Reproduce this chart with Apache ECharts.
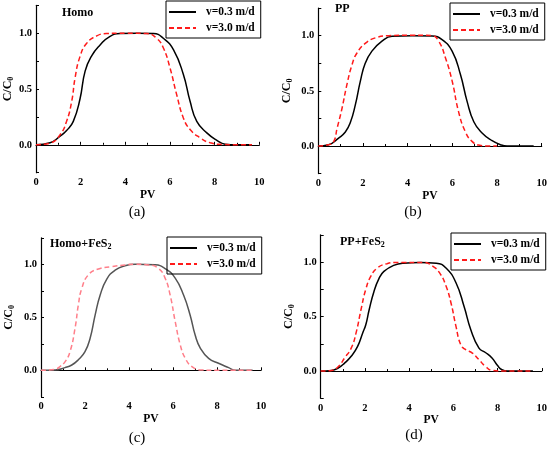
<!DOCTYPE html>
<html>
<head>
<meta charset="utf-8">
<script src="https://cdn.jsdelivr.net/npm/echarts@6/dist/echarts.min.js"></script>
<style>html,body{margin:0;padding:0;background:#fff;}#c{width:550px;height:449px;}</style>
</head>
<body>
<div id="c"></div>
<script>
// Data: [PV, C/C0]
var homoSlow = [[0,0],[0.63,0.018],[1.08,0.077],[1.37,0.128],[1.67,0.21],[1.97,0.41],[2.2,0.66],[2.5,0.8],[2.87,0.895],[3.3,0.97],[3.77,0.997],[4.5,1.0],[5.26,0.997],[5.7,0.955],[6.16,0.85],[6.6,0.63],[6.9,0.39],[7.2,0.21],[7.65,0.107],[8.1,0.04],[8.47,0.006],[9,0],[9.67,0]];
var homoFast = [[0,0],[0.63,0.015],[1.08,0.09],[1.37,0.21],[1.6,0.39],[1.75,0.6],[1.97,0.79],[2.27,0.91],[2.72,0.976],[3.17,0.997],[4,1.0],[4.96,0.997],[5.4,0.955],[5.7,0.87],[6.0,0.69],[6.3,0.45],[6.6,0.24],[6.9,0.137],[7.35,0.0625],[7.8,0.018],[8.33,0.003],[9,0],[9.67,0]];
var ppSlow = [[0,0],[0.46,0.012],[0.91,0.072],[1.21,0.127],[1.43,0.21],[1.66,0.375],[1.88,0.586],[2.1,0.75],[2.4,0.86],[2.85,0.95],[3.3,0.994],[4.2,1.0],[5.09,0.997],[5.54,0.964],[5.99,0.86],[6.36,0.65],[6.66,0.405],[6.96,0.22],[7.33,0.118],[7.78,0.048],[8.15,0.012],[8.45,0],[9.64,0]];
var ppFast = [[0,0],[0.46,0.012],[0.69,0.04],[0.84,0.16],[1.06,0.34],[1.28,0.556],[1.51,0.737],[1.73,0.843],[2.1,0.93],[2.55,0.98],[3.15,1.0],[4.2,1.005],[5.09,1.0],[5.39,0.95],[5.69,0.8],[5.99,0.59],[6.28,0.31],[6.58,0.13],[6.88,0.042],[7.18,0.009],[7.6,0],[8.0,0]];
var homoFeSlow = [[0,0],[0.64,0.003],[1.09,0.025],[1.4,0.05],[1.7,0.1],[2.0,0.176],[2.23,0.3],[2.46,0.52],[2.69,0.71],[2.99,0.86],[3.37,0.945],[3.82,0.987],[4.28,1.0],[5.19,0.995],[5.64,0.96],[6.1,0.87],[6.48,0.71],[6.78,0.52],[7.01,0.33],[7.24,0.21],[7.62,0.113],[8.07,0.066],[8.53,0.025],[8.83,0],[9.62,0]];
var homoFeFast = [[0,0],[0.64,0.01],[0.86,0.035],[1.09,0.08],[1.32,0.176],[1.55,0.4],[1.7,0.62],[1.85,0.77],[2.15,0.9],[2.61,0.956],[3.22,0.978],[3.82,0.994],[4.28,1.0],[4.89,0.994],[5.34,0.96],[5.64,0.87],[5.87,0.71],[6.1,0.46],[6.33,0.24],[6.56,0.113],[6.86,0.035],[7.31,0.003],[8,0],[9.62,0]];
var ppFeSlow = [[0,0],[0.49,0.006],[0.79,0.028],[1.08,0.073],[1.38,0.135],[1.67,0.226],[1.9,0.35],[2.04,0.425],[2.19,0.56],[2.41,0.73],[2.64,0.85],[2.86,0.914],[3.3,0.97],[3.75,0.99],[4.5,0.995],[5.23,0.99],[5.67,0.945],[6.12,0.81],[6.49,0.59],[6.79,0.38],[7.16,0.21],[7.45,0.17],[7.75,0.12],[8.0,0.05],[8.2,0.012],[8.45,0],[9.6,0]];
var ppFeFast = [[0,0],[0.49,0.006],[0.79,0.04],[1.08,0.12],[1.38,0.21],[1.6,0.35],[1.82,0.56],[2.04,0.75],[2.27,0.87],[2.56,0.945],[3.0,0.985],[3.45,0.997],[4.64,0.997],[5.08,0.96],[5.38,0.9],[5.67,0.78],[5.9,0.62],[6.12,0.41],[6.34,0.24],[6.56,0.196],[6.86,0.165],[7.16,0.104],[7.45,0.043],[7.75,0.006],[8.2,0],[9.6,0]];

var seriesNames = ['v=0.3 m/d', 'v=3.0 m/d'];
var panelTitles = ['Homo', 'PP', 'Homo+FeS', 'PP+FeS'];
var panelSubs = ['', '', '2', '2'];
var panelLabels = ['(a)', '(b)', '(c)', '(d)'];
var xTicks = [0, 2, 4, 6, 8, 10];
var yTicks = [0.0, 0.5, 1.0];

var FONT = 'Liberation Serif';
var chart = echarts.init(document.getElementById('c'), null, {renderer: 'canvas'});

var grids = [
  {left: 36, top: 5.3, width: 223.3, height: 167.4},
  {left: 318.3, top: 8.1, width: 223.4, height: 165.5},
  {left: 41, top: 237.8, width: 220, height: 159},
  {left: 320.7, top: 234.8, width: 222.5, height: 163.5}
];
var yNameGaps = [20, 24, 25, 25];
var titlePos = [[62, 7], [335, 3], [50, 237], [340, 235]];
var labelPos = [[137, 205], [413, 205], [137, 431], [414, 428]];
var legendPos = [[166, 1], [450, 3], [167, 237], [451, 233]];
var slowColors = ['#000', '#000', '#555', '#000'];
var fastColors = ['#ff1a1a', '#ff1a1a', '#ff7f8a', '#ff1a1a'];
var slowData = [homoSlow, ppSlow, homoFeSlow, ppFeSlow];
var fastData = [homoFast, ppFast, homoFeFast, ppFeFast];

var xAxes = [], yAxes = [], series = [], titles = [], legends = [];
for (var i = 0; i < 4; i++) {
  xAxes.push({
    type: 'value', gridIndex: i, min: 0, max: 10, interval: 2,
    name: 'PV', nameLocation: 'middle', nameGap: 16,
    nameTextStyle: {fontFamily: FONT, fontWeight: 'bold', fontSize: 11.5, color: '#000'},
    axisLine: {show: true, lineStyle: {color: '#000', width: 1.2}},
    axisTick: {show: true, inside: true, length: 3, lineStyle: {color: '#000', width: 1}},
    minorTick: {show: true, splitNumber: 2, length: 2, lineStyle: {color: '#000', width: 1}},
    splitLine: {show: false},
    axisLabel: {fontFamily: FONT, fontWeight: 'bold', fontSize: 10.5, color: '#000', margin: 4,
      formatter: function (v) { return xTicks.indexOf(v) >= 0 ? String(v) : ''; }}
  });
  yAxes.push({
    type: 'value', gridIndex: i, min: -0.25, max: 1.25, interval: 0.25,
    name: '{m|C/C}{s|0}', nameLocation: 'middle', nameGap: yNameGaps[i],
    nameTextStyle: {fontFamily: FONT, fontWeight: 'bold', fontSize: 12, color: '#000',
      rich: {m: {fontFamily: FONT, fontWeight: 'bold', fontSize: 12, color: '#000'},
             s: {fontFamily: FONT, fontWeight: 'bold', fontSize: 8, color: '#000', padding: [6, 0, 0, 0]}}},
    axisLine: {show: true, lineStyle: {color: '#000', width: 1.2}},
    axisTick: {show: true, inside: true, length: 3, lineStyle: {color: '#000', width: 1}},
    splitLine: {show: false},
    axisLabel: {fontFamily: FONT, fontWeight: 'bold', fontSize: 10.5, color: '#000', margin: 4,
      formatter: function (v) {
        for (var k = 0; k < yTicks.length; k++) { if (Math.abs(v - yTicks[k]) < 1e-6) return yTicks[k].toFixed(1); }
        return '';
      }}
  });
  series.push({
    type: 'line', name: seriesNames[0], xAxisIndex: i, yAxisIndex: i, data: slowData[i],
    showSymbol: false, symbol: 'none', smooth: 0.5,
    lineStyle: {color: slowColors[i], width: 1.5, type: 'solid'}, itemStyle: {color: slowColors[i]}
  });
  series.push({
    type: 'line', name: seriesNames[1], xAxisIndex: i, yAxisIndex: i, data: fastData[i],
    showSymbol: false, symbol: 'none', smooth: 0.5,
    lineStyle: {color: fastColors[i], width: 1.5, type: [5, 3]}, itemStyle: {color: fastColors[i]}
  });
  titles.push({
    text: panelSubs[i] ? '{m|' + panelTitles[i] + '}{s|' + panelSubs[i] + '}' : panelTitles[i],
    left: titlePos[i][0], top: titlePos[i][1], padding: 0,
    textStyle: {fontFamily: FONT, fontWeight: 'bold', fontSize: 12, color: '#000',
      rich: {m: {fontFamily: FONT, fontWeight: 'bold', fontSize: 12, color: '#000'},
             s: {fontFamily: FONT, fontWeight: 'bold', fontSize: 8, color: '#000', padding: [6, 0, 0, 0]}}}
  });
  titles.push({
    text: panelLabels[i], left: labelPos[i][0], top: labelPos[i][1], textAlign: 'center', padding: 0,
    textStyle: {fontFamily: FONT, fontWeight: 'normal', fontSize: 15, color: '#000'}
  });
  legends.push({
    data: seriesNames, orient: 'vertical', left: legendPos[i][0], top: legendPos[i][1],
    itemWidth: 27, itemHeight: 10, itemGap: 4, padding: [5, 6, 4, 2],
    borderColor: '#000', borderWidth: 1, borderRadius: 0, selectedMode: false,
    itemStyle: {opacity: 0},
    textStyle: {fontFamily: FONT, fontWeight: 'bold', fontSize: 11.5, color: '#000', padding: [0, 0, 0, 5]}
  });
}

chart.setOption({
  animation: false,
  backgroundColor: '#fff',
  title: titles,
  legend: legends,
  grid: grids,
  xAxis: xAxes,
  yAxis: yAxes,
  series: series
});
</script>
</body>
</html>
